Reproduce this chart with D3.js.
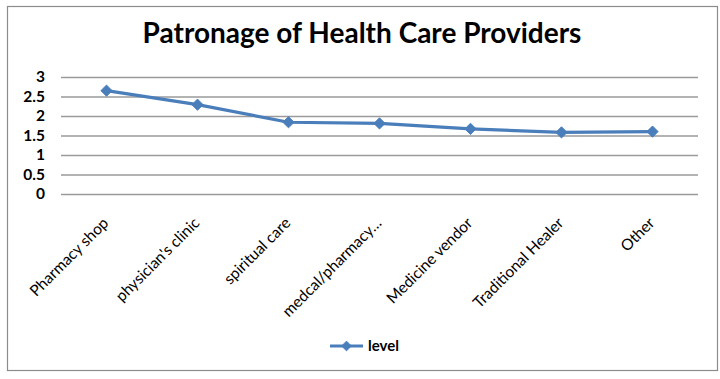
<!DOCTYPE html>
<html>
<head>
<meta charset="utf-8">
<script src="https://cdn.jsdelivr.net/npm/d3@7"></script>
<style>
    body { margin: 0; background: #fff; }
    svg { display: block; font-family: Lato, 'Open Sans', sans-serif; }
</style>
</head>
<body>
<div id="chart"></div>
<script>
// Patronage of Health Care Providers

const categories = ['Pharmacy shop', "physician's clinic", 'spiritual care', 'medcal/pharmacy…',
    'Medicine vendor', 'Traditional Healer', 'Other'];
const levels = [2.65, 2.29, 1.84, 1.81, 1.67, 1.58, 1.60];
const yTicks = [0, 0.5, 1, 1.5, 2, 2.5, 3];
const seriesName = 'level';

function createChart() {
    const W = 720, H = 379;
    const plot = { left: 61, right: 698, top: 77, bottom: 194 };
    const blue = '#4a7ebb';

    const svg = d3.select('#chart').append('svg')
        .attr('width', W)
        .attr('height', H);

    // Outer frame
    svg.append('rect')
        .attr('x', 7.5)
        .attr('y', 6.5)
        .attr('width', 710)
        .attr('height', 364)
        .attr('fill', '#fff')
        .attr('stroke', '#8c8c8c')
        .attr('stroke-width', 1.2);

    // Title, fitted to the reference width
    const title = svg.append('text')
        .attr('x', 362)
        .attr('y', 43)
        .attr('text-anchor', 'middle')
        .attr('font-size', '25px')
        .attr('font-weight', 700)
        .attr('fill', '#000')
        .text('Patronage of Health Care Providers');
    const tw = title.node().getComputedTextLength();
    title.attr('font-size', (25 * 439 / tw).toFixed(2) + 'px');

    // Scales
    const x = d3.scaleBand()
        .domain(categories)
        .range([plot.left, plot.right])
        .padding(0);

    const y = d3.scaleLinear()
        .domain([0, 3])
        .range([plot.bottom, plot.top]);

    const cx = d => x(d) + x.bandwidth() / 2;

    // Grid
    svg.append('g')
        .attr('class', 'grid')
        .attr('transform', `translate(${plot.left},0)`)
        .call(d3.axisLeft(y)
            .tickValues(yTicks)
            .tickSize(-(plot.right - plot.left))
            .tickFormat(''))
        .call(g => g.select('.domain').remove())
        .selectAll('line')
        .attr('stroke', '#9a9a9a')
        .attr('stroke-width', 1.3);

    // Y-axis labels
    svg.append('g')
        .attr('class', 'axis')
        .attr('transform', `translate(${plot.left},0)`)
        .call(d3.axisLeft(y)
            .tickValues(yTicks)
            .tickSize(0)
            .tickPadding(16)
            .tickFormat(d3.format('')))
        .call(g => g.select('.domain').remove())
        .selectAll('text')
        .attr('fill', '#000')
        .attr('font-family', 'Lato, sans-serif')
        .attr('font-size', '15.5px')
        .attr('font-weight', 700);

    // X-axis labels, rotated
    svg.append('g')
        .attr('class', 'x-labels')
        .selectAll('text')
        .data(categories)
        .enter()
        .append('text')
        .attr('transform', d => `translate(${cx(d) + 3},224) rotate(-45)`)
        .attr('text-anchor', 'end')
        .attr('fill', '#000')
        .attr('font-size', '15.5px')
        .text(d => d);

    // Line
    const line = d3.line()
        .x((d, i) => cx(categories[i]))
        .y(d => y(d));

    svg.append('path')
        .datum(levels)
        .attr('fill', 'none')
        .attr('stroke', blue)
        .attr('stroke-width', 3.2)
        .attr('stroke-linejoin', 'round')
        .attr('d', line);

    const diamond = d3.symbol().type(d3.symbolDiamond2).size(80);

    svg.selectAll('.dot')
        .data(levels)
        .enter()
        .append('path')
        .attr('class', 'dot')
        .attr('transform', (d, i) => `translate(${cx(categories[i])},${y(d)})`)
        .attr('d', diamond)
        .attr('fill', blue)
        .attr('stroke', blue)
        .attr('stroke-width', 1);

    // Legend
    const legend = svg.append('g')
        .attr('transform', 'translate(330,346)');

    legend.append('line')
        .attr('x1', 0)
        .attr('x2', 33)
        .attr('stroke', blue)
        .attr('stroke-width', 3.2);

    legend.append('path')
        .attr('transform', 'translate(16.5,0)')
        .attr('d', d3.symbol().type(d3.symbolDiamond2).size(60))
        .attr('fill', blue)
        .attr('stroke', blue);

    legend.append('text')
        .attr('x', 38)
        .attr('y', 5)
        .attr('fill', '#000')
        .attr('font-size', '15px')
        .attr('font-weight', 700)
        .text(seriesName);
}

createChart();
</script>
</body>
</html>
